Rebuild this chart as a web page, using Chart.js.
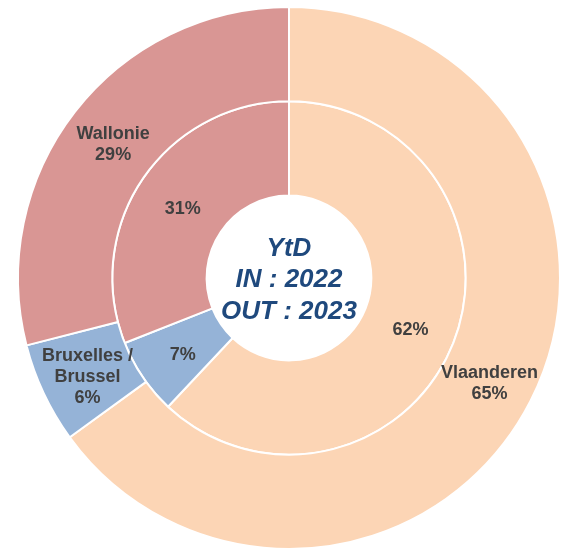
<!DOCTYPE html>
<html>
<head>
<meta charset="utf-8">
<script src="https://cdn.jsdelivr.net/npm/chart.js@4/dist/chart.umd.min.js"></script>
<style>
  html, body { margin: 0; padding: 0; background: #ffffff; }
  canvas { display: block; }
</style>
</head>
<body>
<canvas id="c" width="571" height="553"></canvas>
<script>
// Data
const regions = ['Vlaanderen', 'Bruxelles / Brussel', 'Wallonie'];
const regionLabelLines = [['Vlaanderen'], ['Bruxelles /', 'Brussel'], ['Wallonie']];
const values2023 = [65, 6, 29];   // outer ring (OUT : 2023)
const values2022 = [62, 7, 31];   // inner ring (IN : 2022)
const centerLines = ['YtD', 'IN : 2022', 'OUT : 2023'];
const regionColors = ['#FCD5B5', '#95B3D7', '#D99694'];

const labelPlugin = {
  id: 'arcLabels',
  afterDatasetsDraw(chart) {
    const ctx = chart.ctx;
    ctx.save();
    ctx.textAlign = 'center';
    ctx.textBaseline = 'middle';
    ctx.fillStyle = '#404040';
    ctx.font = 'bold 18px "Liberation Sans", Arial, sans-serif';
    const lh = 21;
    chart.data.datasets.forEach((ds, di) => {
      const meta = chart.getDatasetMeta(di);
      meta.data.forEach((arc, i) => {
        const p = arc.tooltipPosition();
        let lines = [ds.data[i] + '%'];
        if (ds.showNames) lines = regionLabelLines[i].concat(lines);
        const top = p.y + 4 - (lines.length - 1) * lh / 2;
        lines.forEach((t, k) => ctx.fillText(t, p.x + 1, top + k * lh));
      });
    });
    // center text
    const a = chart.chartArea;
    const cx = (a.left + a.right) / 2, cy = (a.top + a.bottom) / 2;
    ctx.fillStyle = '#1F497D';
    ctx.font = 'italic bold 26px "Liberation Sans", Arial, sans-serif';
    const clh = 31.5;
    const ctop = cy - (centerLines.length - 1) * clh / 2 + 2;
    centerLines.forEach((t, k) => ctx.fillText(t, cx, ctop + k * clh));
    ctx.restore();
  }
};

new Chart(document.getElementById('c'), {
  type: 'doughnut',
  data: {
    labels: regions,
    datasets: [
      { data: values2023, backgroundColor: regionColors, borderColor: '#ffffff', borderWidth: 2, showNames: true },
      { data: values2022, backgroundColor: regionColors, borderColor: '#ffffff', borderWidth: 2, showNames: false }
    ]
  },
  options: {
    responsive: false,
    animation: false,
    cutout: '30.4%',
    rotation: 0,
    layout: { padding: { left: 17, right: 10, top: 6, bottom: 3 } },
    plugins: {
      legend: { display: false },
      tooltip: { enabled: false }
    }
  },
  plugins: [labelPlugin]
});
</script>
</body>
</html>
